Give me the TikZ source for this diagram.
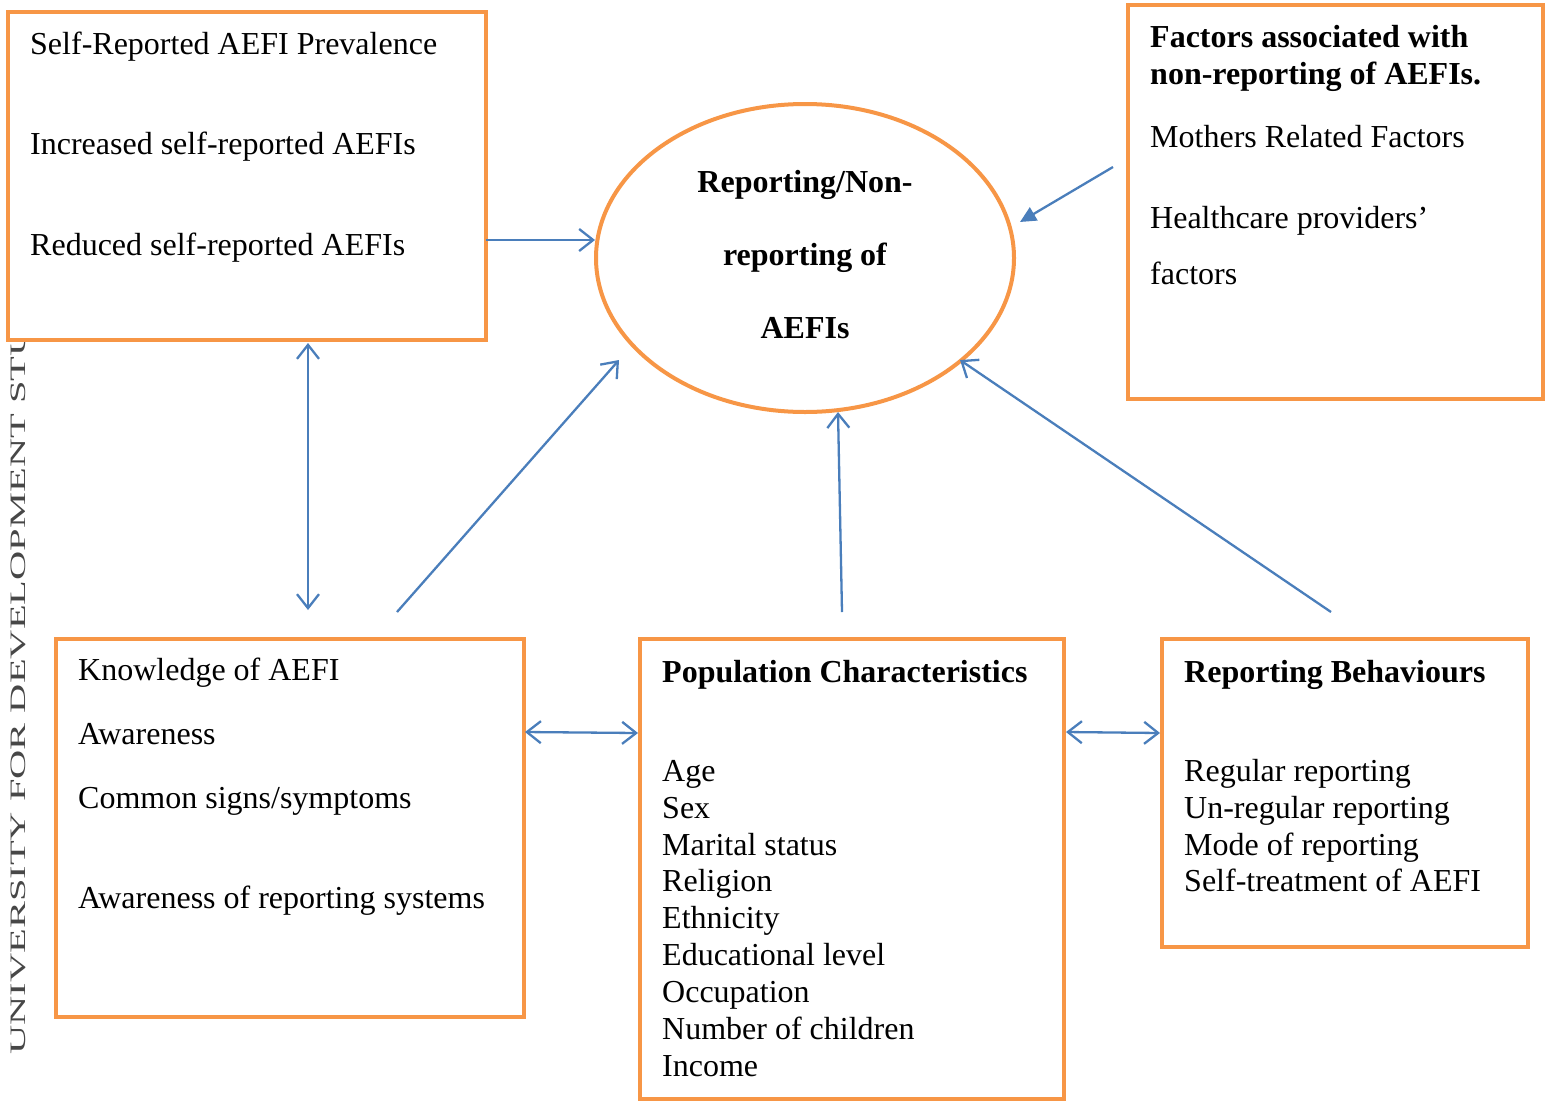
\documentclass[tikz,border=0pt]{standalone}
\usepackage{fontspec}
\setmainfont{Liberation Serif}
\usetikzlibrary{arrows.meta,shapes.geometric}
\definecolor{boxorange}{HTML}{F79646}
\definecolor{arrblue}{HTML}{4A7EBB}
\tikzset{
  box/.style={draw=boxorange, line width=4pt, fill=white, rectangle, inner sep=0pt},
  oval/.style={draw=boxorange, line width=4pt, fill=white, ellipse, inner sep=0pt},
  txt/.style={anchor=base west, inner sep=0pt, font=\fontsize{32}{37}\selectfont},
  btxt/.style={txt, font=\fontsize{32}{37}\selectfont\bfseries},
  ctxt/.style={anchor=base, inner sep=0pt, font=\fontsize{32}{37}\selectfont\bfseries},
  conn/.style={draw=arrblue, line width=2.3pt},
  open/.style={conn, -{Straight Barb[length=14pt,width=22pt]}},
  both/.style={conn, {Straight Barb[length=14pt,width=22pt]}-{Straight Barb[length=14pt,width=22pt]}},
  solid/.style={conn, -{Triangle[length=16pt,width=15pt]}}
}
\begin{document}
\begin{tikzpicture}[x=1pt,y=-1pt]
\useasboundingbox (0,0) rectangle (1549,1101);
% watermark
\node[anchor=base west, rotate=90, inner sep=0pt, text=black!72, font=\fontsize{22}{24}\selectfont] (wm) at (25,1055) {\scalebox{1.84}[1]{UNIVERSITY FOR DEVELOPMENT STU}};
% boxes
\node[box, minimum width=478pt, minimum height=328pt] (tl) at (247,176) {};
\node[box, minimum width=415pt, minimum height=394pt] (tr) at (1335.5,202) {};
\node[box, minimum width=468pt, minimum height=378pt] (kn) at (290,828) {};
\node[box, minimum width=424pt, minimum height=460pt] (pop) at (852,869) {};
\node[box, minimum width=366pt, minimum height=308pt] (rep) at (1345,793) {};
\node[oval, minimum width=418pt, minimum height=308pt] (ell) at (805,258) {};
% texts top-left
\node[txt] (tl1) at (30,54) {Self-Reported AEFI Prevalence};
\node[txt] (tl2) at (30,154) {Increased self-reported AEFIs};
\node[txt] (tl3) at (30,255) {Reduced self-reported AEFIs};
% ellipse
\node[ctxt] (e1) at (805,192) {Reporting/Non-};
\node[ctxt] (e2) at (805,265) {reporting of};
\node[ctxt] (e3) at (805,338) {AEFIs};
% top-right
\node[btxt] (tr1) at (1150,47) {Factors associated with};
\node[btxt] (tr2) at (1150,84) {non-reporting of AEFIs.};
\node[txt] (tr3) at (1150,147) {Mothers Related Factors};
\node[txt] (tr4) at (1150,228) {Healthcare providers’};
\node[txt] (tr5) at (1150,284) {factors};
% knowledge
\node[txt] (k1) at (78,680) {Knowledge of AEFI};
\node[txt] (k2) at (78,744) {Awareness};
\node[txt] (k3) at (78,808) {Common signs/symptoms};
\node[txt] (k4) at (78,908) {Awareness of reporting systems};
% population
\node[btxt] (p0) at (662,682) {Population Characteristics};
\node[txt] (p1) at (662,781) {Age};
\node[txt] (p2) at (662,818) {Sex};
\node[txt] (p3) at (662,855) {Marital status};
\node[txt] (p4) at (662,891) {Religion};
\node[txt] (p5) at (662,928) {Ethnicity};
\node[txt] (p6) at (662,965) {Educational level};
\node[txt] (p7) at (662,1002) {Occupation};
\node[txt] (p8) at (662,1039) {Number of children};
\node[txt] (p9) at (662,1076) {Income};
% reporting
\node[btxt] (r0) at (1184,682) {Reporting Behaviours};
\node[txt] (r1) at (1184,781) {Regular reporting};
\node[txt] (r2) at (1184,818) {Un-regular reporting};
\node[txt] (r3) at (1184,855) {Mode of reporting};
\node[txt] (r4) at (1184,891) {Self-treatment of AEFI};
% connector ends
\coordinate (a1s) at (486,240);  \coordinate (a1e) at (595,240);
\coordinate (a2s) at (1113,167); \coordinate (a2e) at (1020,222);
\coordinate (a3s) at (308,343);  \coordinate (a3e) at (308,610);
\coordinate (a4s) at (397,612);  \coordinate (a4e) at (619,360);
\coordinate (a5s) at (842,612);  \coordinate (a5e) at (838,412);
\coordinate (a6s) at (1331,612); \coordinate (a6e) at (960,360);
\coordinate (a7s) at (525,732);  \coordinate (a7e) at (638,733);
\coordinate (a8s) at (1066,732); \coordinate (a8e) at (1160,733);
% connectors
\draw[open] (a1s) -- (a1e);
\draw[solid] (a2s) -- (a2e);
\draw[both] (a3s) -- (a3e);
\draw[open] (a4s) -- (a4e);
\draw[open] (a5s) -- (a5e);
\draw[open] (a6s) -- (a6e);
\draw[both] (a7s) -- (a7e);
\draw[both] (a8s) -- (a8e);
\end{tikzpicture}
\end{document}
